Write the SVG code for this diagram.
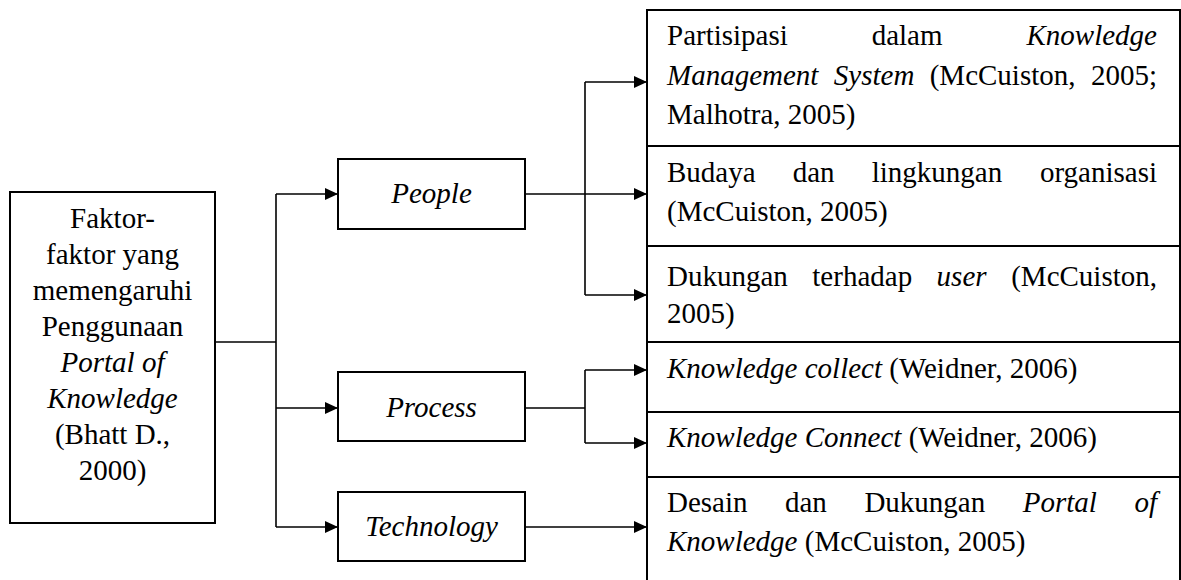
<svg xmlns="http://www.w3.org/2000/svg" width="1181" height="580" viewBox="0 0 1181 580">
<style>
.box{fill:#fff;stroke:#000;stroke-width:2}
.ln{fill:none;stroke:#000;stroke-width:1.6}
.t{font-family:'Liberation Serif','Times New Roman',Tinos,Times,'DejaVu Serif',serif;font-size:29px;fill:#000}
.i{font-style:italic}
.c{text-anchor:middle}
.e{text-anchor:end}
</style>
<defs>
<marker id="ah" markerUnits="userSpaceOnUse" markerWidth="14" markerHeight="12" refX="13" refY="6" orient="auto">
<path d="M0,0 L13,6 L0,12 Z" fill="#000"/>
</marker>
</defs>
<g id="connectors">
<path class="ln" d="M215,342 H276"/>
<path class="ln" d="M276,194 V527"/>
<path class="ln" d="M276,194 H338" marker-end="url(#ah)"/>
<path class="ln" d="M276,408 H338" marker-end="url(#ah)"/>
<path class="ln" d="M276,527 H338" marker-end="url(#ah)"/>
<path class="ln" d="M525,194 H585"/>
<path class="ln" d="M585,82 V295"/>
<path class="ln" d="M585,82 H647" marker-end="url(#ah)"/>
<path class="ln" d="M585,194 H647" marker-end="url(#ah)"/>
<path class="ln" d="M585,295 H647" marker-end="url(#ah)"/>
<path class="ln" d="M525,408 H585"/>
<path class="ln" d="M585,370 V443"/>
<path class="ln" d="M585,370 H647" marker-end="url(#ah)"/>
<path class="ln" d="M585,443 H647" marker-end="url(#ah)"/>
<path class="ln" d="M525,527 H647" marker-end="url(#ah)"/>
</g>
<g id="faktor">
<rect class="box" x="10" y="192" width="205" height="331"/>
<text class="t c" x="112.5" y="228">Faktor-</text>
<text class="t c" x="112.5" y="264">faktor yang</text>
<text class="t c" x="112.5" y="300">memengaruhi</text>
<text class="t c" x="112.5" y="336">Penggunaan</text>
<text class="t c i" x="112.5" y="372">Portal of</text>
<text class="t c i" x="112.5" y="408">Knowledge</text>
<text class="t c" x="112.5" y="444">(Bhatt D.,</text>
<text class="t c" x="112.5" y="480">2000)</text>
</g>
<g id="people">
<rect class="box" x="338" y="159" width="187" height="70"/>
<text class="t c i" x="431.5" y="203">People</text>
</g>
<g id="process">
<rect class="box" x="338" y="372" width="187" height="69"/>
<text class="t c i" x="431.5" y="417">Process</text>
</g>
<g id="technology">
<rect class="box" x="338" y="492" width="187" height="69"/>
<text class="t c i" x="431.5" y="536">Technology</text>
</g>
<g id="partisipasi">
<rect class="box" x="647" y="10" width="533" height="136"/>
<text class="t" x="667" y="45">Partisipasi</text>
<text class="t" x="871.7" y="45">dalam</text>
<text class="t i e" x="1157" y="45">Knowledge</text>
<text class="t i" x="667" y="84.5">Management</text>
<text class="t i" x="833.8" y="84.5">System</text>
<text class="t" x="929.7" y="84.5">(McCuiston,</text>
<text class="t e" x="1157" y="84.5">2005;</text>
<text class="t" x="667" y="124">Malhotra, 2005)</text>
</g>
<g id="budaya">
<rect class="box" x="647" y="146" width="533" height="100"/>
<text class="t" x="667" y="182">Budaya</text>
<text class="t" x="792.7" y="182">dan</text>
<text class="t" x="871.7" y="182">lingkungan</text>
<text class="t e" x="1157" y="182">organisasi</text>
<text class="t" x="667" y="221">(McCuiston, 2005)</text>
</g>
<g id="dukungan">
<rect class="box" x="647" y="246" width="533" height="96"/>
<text class="t" x="667" y="286">Dukungan</text>
<text class="t" x="812.3" y="286">terhadap</text>
<text class="t i" x="936.6" y="286">user</text>
<text class="t e" x="1157" y="286">(McCuiston,</text>
<text class="t" x="667" y="323">2005)</text>
</g>
<g id="collect">
<rect class="box" x="647" y="342" width="533" height="70"/>
<text class="t" x="667" y="378"><tspan class="i">Knowledge collect</tspan> (Weidner, 2006)</text>
</g>
<g id="connect">
<rect class="box" x="647" y="412" width="533" height="65"/>
<text class="t" x="667" y="447"><tspan class="i">Knowledge Connect</tspan> (Weidner, 2006)</text>
</g>
<g id="desain">
<rect class="box" x="647" y="477" width="533" height="120"/>
<text class="t" x="667" y="512">Desain</text>
<text class="t" x="785" y="512">dan</text>
<text class="t" x="864.4" y="512">Dukungan</text>
<text class="t i" x="1022.7" y="512">Portal</text>
<text class="t i e" x="1157" y="512">of</text>
<text class="t" x="667" y="551"><tspan class="i">Knowledge</tspan> (McCuiston, 2005)</text>
</g>
</svg>
